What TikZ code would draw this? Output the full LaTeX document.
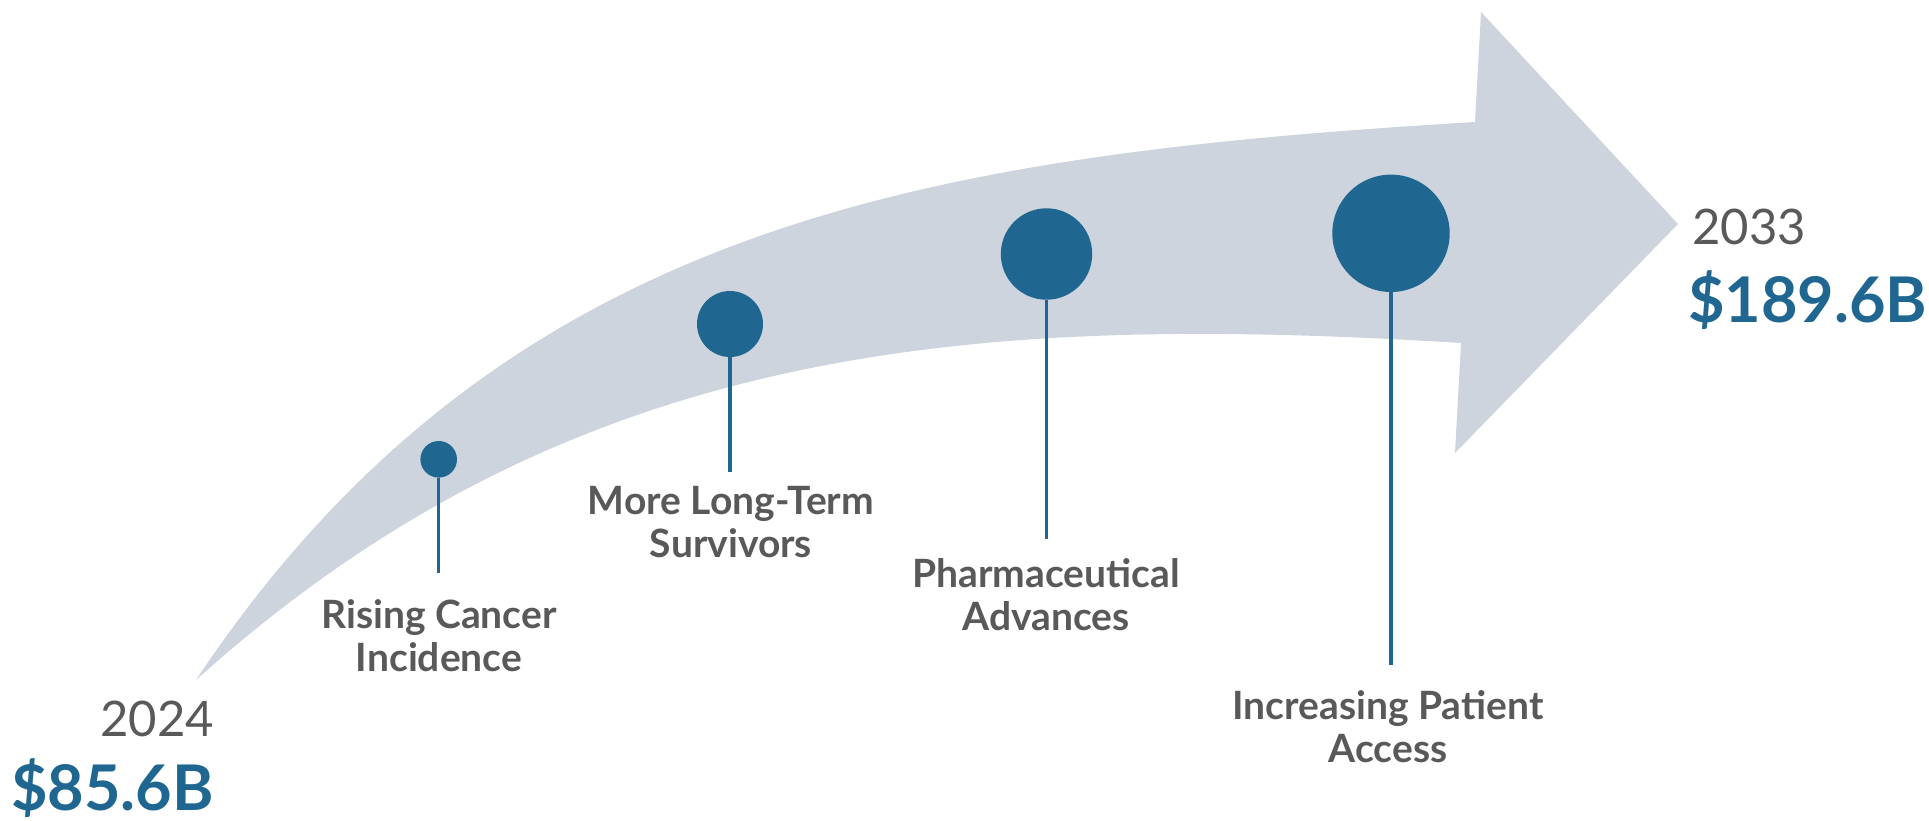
\documentclass[tikz,border=0pt]{standalone}
\usepackage{fontspec}
\setmainfont{Lato}
\definecolor{bandgray}{HTML}{CDD4DE}
\definecolor{mblue}{HTML}{1F6690}
\definecolor{tgray}{HTML}{595959}
\begin{document}
\begin{tikzpicture}[x=1pt,y=-1pt,
  band/.style={fill=bandgray},
  dot/.style={circle, fill=mblue, inner sep=0pt},
  stem/.style={draw=mblue, line width=3.5pt},
  lbl/.style={font=\fontsize{39}{43}\selectfont\bfseries, text=tgray, align=center, inner sep=0pt, anchor=base},
  year/.style={font=\fontsize{49}{49}\selectfont, text=tgray, inner sep=0pt, anchor=base west},
  val/.style={font=\fontsize{63}{63}\selectfont\bfseries, text=mblue, inner sep=0pt, anchor=base west}]
\useasboundingbox (0,0) rectangle (1929,820);
% arrow band
\fill[band] (196,680) .. controls (501,222) and (926,155) .. (1475,122)
  -- (1481,12) -- (1678,224) -- (1455,453) -- (1461,343)
  .. controls (962,312) and (567.5,345.5) .. (196,680) -- cycle;
% dots
\node[dot, minimum size=36.6pt] (c1) at (438.7,459.3) {};
\node[dot, minimum size=66pt] (c2) at (730,324) {};
\node[dot, minimum size=91.4pt] (c3) at (1046.5,254) {};
\node[dot, minimum size=117.4pt] (c4) at (1391,233.3) {};
% stem ends
\coordinate (e1) at (438.7,573);
\coordinate (e2) at (730,472);
\coordinate (e3) at (1046.5,539);
\coordinate (e4) at (1391,665);
\draw[stem] (c1.south) -- (e1);
\draw[stem] (c2.south) -- (e2);
\draw[stem] (c3.south) -- (e3);
\draw[stem] (c4.south) -- (e4);
% labels (anchor = baseline of last line)
\node[lbl] (t1) at (439,671) {Rising Cancer\\Incidence};
\node[lbl] (t2) at (731,557) {More Long-Term\\Survivors};
\node[lbl] (t3) at (1046,630) {Pharmaceutical\\Advances};
\node[lbl] (t4) at (1388,762) {Increasing Patient\\Access};
% years and values
\node[year] (y1) at (100,736) {2024};
\node[val] (v1) at (11,810) {\$85.6B};
\node[year] (y2) at (1692,244) {2033};
\node[val] (v2) at (1688,322) {\$189.6B};
\end{tikzpicture}
\end{document}
